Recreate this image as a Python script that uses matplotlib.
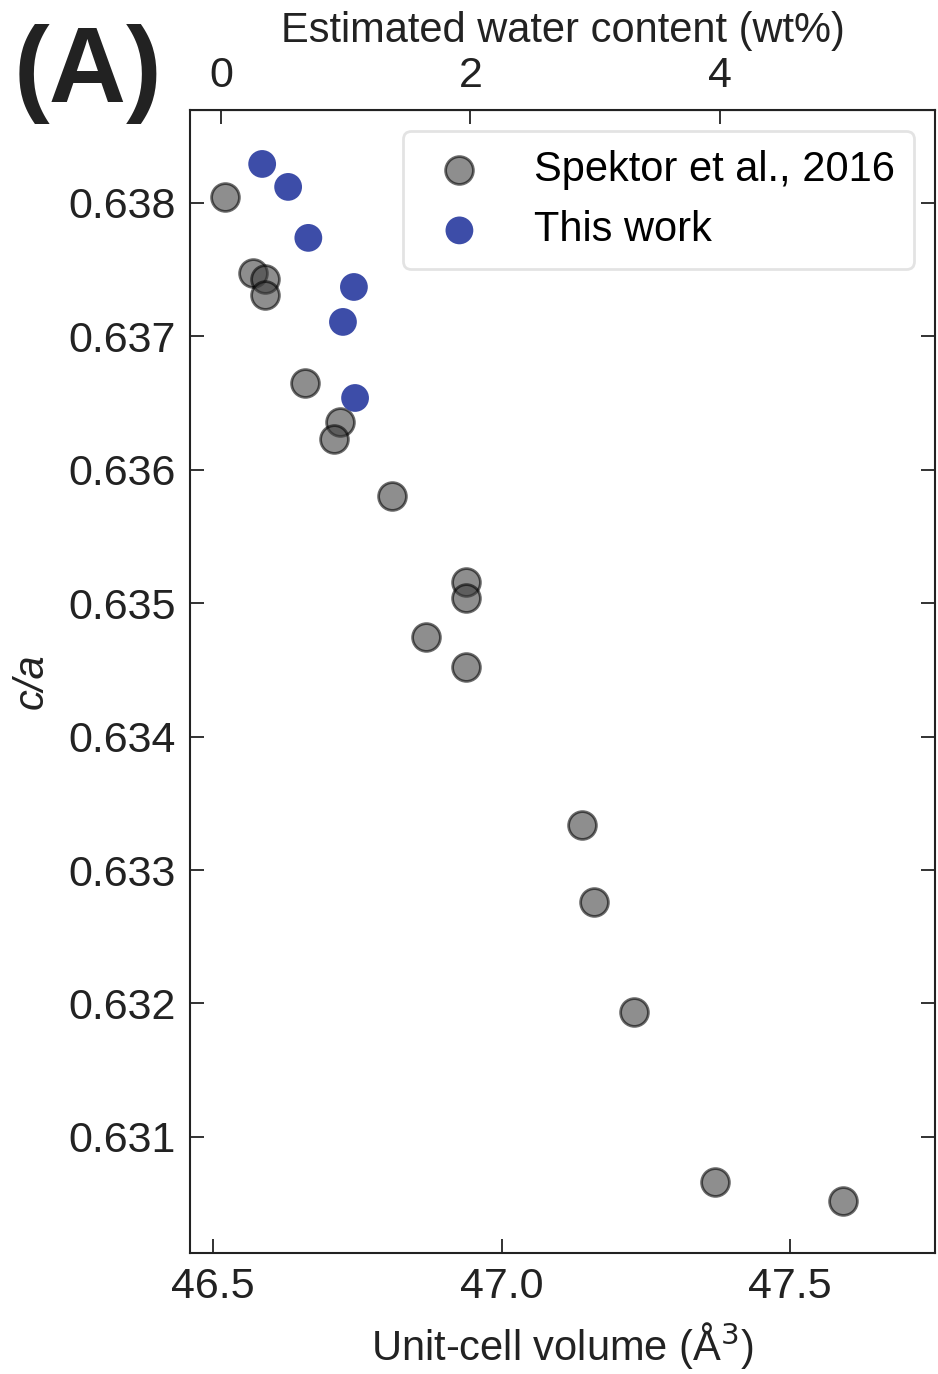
import matplotlib.pyplot as plt
import numpy as np

plt.rcParams['font.family'] = ['Liberation Sans', 'DejaVu Sans']

# Spektor et al., 2016
spektor_vol = [46.521, 46.569, 46.590, 46.590, 46.659, 46.720, 46.710, 46.810,
               46.938, 46.938, 46.869, 46.938, 47.140, 47.160, 47.230, 47.370, 47.592]
spektor_ca = [0.638045, 0.637475, 0.637430, 0.637310, 0.636651, 0.636358, 0.636231, 0.635804,
              0.635159, 0.635039, 0.634747, 0.634522, 0.633337, 0.632760, 0.631936, 0.630661, 0.630519]

# This work
this_vol = [46.585, 46.630, 46.665, 46.744, 46.725, 46.746]
this_ca = [0.638292, 0.638120, 0.637738, 0.637370, 0.637108, 0.636538]

v0 = 46.514    # volume at 0 wt% water
dv = 0.216     # volume change per wt%

fs = 31
fig = plt.figure(figsize=(9.38, 13.74), dpi=100)
ax = fig.add_axes([0.2026, 0.0881, 0.7942, 0.8319])

ax.scatter(spektor_vol, spektor_ca, s=400, facecolor='#3c3c3c', edgecolor='black',
           linewidth=2, alpha=0.58, label='Spektor et al., 2016', zorder=3)
ax.scatter(this_vol, this_ca, s=400, color='#3d4da8', edgecolor='none',
           label='This work', zorder=3)

ax.set_xlim(46.46, 47.751)
ax.set_ylim(0.63013, 0.638697)
ax.set_xticks([46.5, 47.0, 47.5])
ax.set_yticks([0.631, 0.632, 0.633, 0.634, 0.635, 0.636, 0.637, 0.638])
ax.xaxis.set_major_formatter(plt.FormatStrFormatter('%.1f'))
ax.yaxis.set_major_formatter(plt.FormatStrFormatter('%.3f'))
ax.tick_params(axis='both', direction='in', length=10, width=1.3, labelsize=fs,
               color='#222222', labelcolor='#222222', pad=10)
ax.tick_params(axis='y', right=True)
for sp in ax.spines.values():
    sp.set_linewidth(1.5)
    sp.set_color('#222222')

ax.set_xlabel('Unit-cell volume (Å$^3$)', fontsize=30, color='#222222', labelpad=10)
ax.set_ylabel('c/a', fontsize=30, style='italic', color='#222222', labelpad=12)

top = ax.secondary_xaxis('top', functions=(lambda v: (v - v0) / dv, lambda w: w * dv + v0))
top.set_xticks([0, 2, 4])
top.tick_params(direction='in', length=10, width=1.3, labelsize=fs,
                color='#222222', labelcolor='#222222', pad=10)
top.set_xlabel('Estimated water content (wt%)', fontsize=30, color='#222222', labelpad=10)

leg = ax.legend(loc='upper right', fontsize=30, frameon=True, handletextpad=0.9,
                borderpad=0.45, labelspacing=0.5, borderaxespad=0.5, handlelength=1.8)
leg.get_frame().set_edgecolor('#dddddd')
leg.get_frame().set_linewidth(2)

fig.text(0.015, 0.946, '(A)', fontsize=77, fontweight='bold', color='#222222',
         va='center', ha='left')

fig.savefig('out.png', dpi=100)
